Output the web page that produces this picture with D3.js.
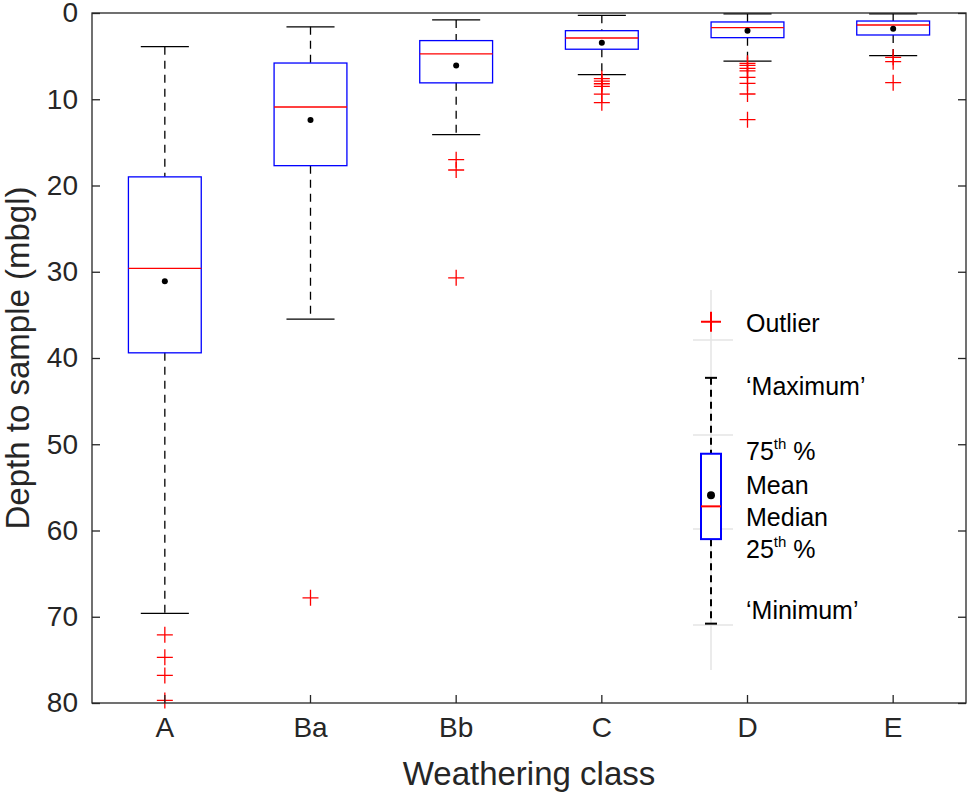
<!DOCTYPE html>
<html><head><meta charset="utf-8">
<script src="https://cdn.jsdelivr.net/npm/d3@7/dist/d3.min.js"></script>
<style>body{margin:0;background:#fff}svg{font-family:"Liberation Sans",Arial,sans-serif}</style>
</head><body><svg id="c" width="969" height="799"></svg>
<script>
const categories = ["A","Ba","Bb","C","D","E"];
const whiskerTop = [3.9,1.6,0.8,0.27,0.1,0.1];
const q1 = [19.0,5.8,3.2,2.05,1.04,0.93];
const medians = [29.6,10.9,4.75,2.9,1.7,1.39];
const means = [31.1,12.4,6.1,3.45,2.05,1.82];
const q3 = [39.4,17.7,8.1,4.2,2.86,2.55];
const whiskerBottom = [69.6,35.5,14.1,7.15,5.57,4.95];
const outliers = [[72.1,74.7,76.8,79.7],[67.8],[17.0,18.2,30.7],[7.6,7.9,8.2,8.5,9.4,10.4],[5.83,6.07,6.41,6.72,7.46,8.15,9.39,12.37],[5.14,5.64,8.08]];
const yTicks = [0,10,20,30,40,50,60,70,80];
const legend = {outlier:35.8,max:42.3,q1:51.1,median:57.2,mean:55.9,q3:61,min:70.8};
const legendLabels = [["Outlier",323],["‘Maximum’",386],["75|th| %",451],["Mean",485],["Median",517],["25|th| %",549],["‘Minimum’",610]];

const svg = d3.select("#c");
const L=92,R=966,T=13,B=703;
const x = d3.scaleBand().domain(categories).range([L,R]);
const y = d3.scaleLinear().domain([0,80]).range([T,B]);
const bw = x.bandwidth()*0.5, cw = x.bandwidth()*0.33;

const lx=711;
const g0=svg.append("g").attr("stroke","#e4e4e4").attr("stroke-width",1.5);
g0.append("line").attr("x1",lx).attr("x2",lx).attr("y1",290).attr("y2",670);
[340,435,529,625].forEach(v=>g0.append("line").attr("x1",lx-18).attr("x2",lx+22).attr("y1",v).attr("y2",v));

categories.forEach((c,i)=>{
  const cx = x(c)+x.bandwidth()/2;
  const g = svg.append("g");
  g.append("line").attr("x1",cx).attr("x2",cx).attr("y1",y(whiskerTop[i])).attr("y2",y(q1[i])).attr("stroke","#000").attr("stroke-dasharray","8,6").attr("stroke-width",1.3);
  g.append("line").attr("x1",cx).attr("x2",cx).attr("y1",y(q3[i])).attr("y2",y(whiskerBottom[i])).attr("stroke","#000").attr("stroke-dasharray","8,6").attr("stroke-width",1.3);
  [whiskerTop[i],whiskerBottom[i]].forEach(v=>g.append("line").attr("x1",cx-cw/2).attr("x2",cx+cw/2).attr("y1",y(v)).attr("y2",y(v)).attr("stroke","#000").attr("stroke-width",1.3));
  g.append("rect").attr("x",cx-bw/2).attr("width",bw).attr("y",y(q1[i])).attr("height",y(q3[i])-y(q1[i])).attr("fill","none").attr("stroke","#0000ff").attr("stroke-width",1.3);
  g.append("line").attr("x1",cx-bw/2).attr("x2",cx+bw/2).attr("y1",y(medians[i])).attr("y2",y(medians[i])).attr("stroke","#ff0000").attr("stroke-width",1.3);
  g.append("circle").attr("cx",cx).attr("cy",y(means[i])).attr("r",3).attr("fill","#000");
  outliers[i].forEach(v=>{
    g.append("path").attr("d",`M${cx-8},${y(v)}H${cx+8}M${cx},${y(v)-8}V${y(v)+8}`).attr("stroke","#ff0000").attr("stroke-width",1.3);
  });
});

const lg = svg.append("g");
const lbw=20, lcw=12;
lg.append("path").attr("d",`M${lx-10},${y(legend.outlier)}h20M${lx},${y(legend.outlier)-10}v20`).attr("stroke","#ff0000").attr("stroke-width",2);
lg.append("line").attr("x1",lx).attr("x2",lx).attr("y1",y(legend.max)).attr("y2",y(legend.q1)).attr("stroke","#000").attr("stroke-width",2).attr("stroke-dasharray","7,5");
lg.append("line").attr("x1",lx).attr("x2",lx).attr("y1",y(legend.q3)).attr("y2",y(legend.min)).attr("stroke","#000").attr("stroke-width",2).attr("stroke-dasharray","7,5");
[legend.max,legend.min].forEach(v=>lg.append("line").attr("x1",lx-lcw/2).attr("x2",lx+lcw/2).attr("y1",y(v)).attr("y2",y(v)).attr("stroke","#000").attr("stroke-width",2));
lg.append("rect").attr("x",lx-lbw/2).attr("width",lbw).attr("y",y(legend.q1)).attr("height",y(legend.q3)-y(legend.q1)).attr("fill","#fff").attr("stroke","#0000ff").attr("stroke-width",2);
lg.append("line").attr("x1",lx-lbw/2).attr("x2",lx+lbw/2).attr("y1",y(legend.median)).attr("y2",y(legend.median)).attr("stroke","#ff0000").attr("stroke-width",2);
lg.append("circle").attr("cx",lx).attr("cy",y(legend.mean)).attr("r",4).attr("fill","#000");
legendLabels.forEach(([t,yy])=>{
  const tx = lg.append("text").attr("x",746).attr("y",yy).attr("dy","0.35em").attr("font-size",25).attr("fill","#000");
  const parts=t.split("|");
  tx.append("tspan").text(parts[0]);
  if(parts.length>1){
    tx.append("tspan").attr("font-size",15).attr("dy","-0.75em").text(parts[1]);
    tx.append("tspan").attr("dy","0.45em").text(parts[2]);
  }
});

svg.append("rect").attr("x",L).attr("y",T).attr("width",R-L).attr("height",B-T).attr("fill","none").attr("stroke","#262626").attr("stroke-width",1.3);
const ya = svg.append("g").attr("transform",`translate(${L},0)`).call(d3.axisLeft(y).tickValues(yTicks).tickSizeInner(-8).tickSizeOuter(0).tickPadding(14));
const yr = svg.append("g").attr("transform",`translate(${R},0)`).call(d3.axisRight(y).tickValues(yTicks).tickSizeInner(-8).tickSizeOuter(0).tickFormat(""));
const xa = svg.append("g").attr("transform",`translate(0,${B})`).call(d3.axisBottom(x).tickSizeInner(-8).tickSizeOuter(0).tickPadding(14));
[ya,yr,xa].forEach(a=>{a.select(".domain").remove();a.selectAll("line").attr("stroke","#262626").attr("stroke-width",1.3);a.selectAll("text").attr("font-size",28).attr("fill","#262626").attr("font-family","Liberation Sans, Arial, sans-serif");});
svg.append("text").attr("x",(L+R)/2).attr("y",785).attr("text-anchor","middle").attr("font-size",33).attr("fill","#262626").text("Weathering class");
svg.append("text").attr("transform",`translate(29,${(T+B)/2}) rotate(-90)`).attr("text-anchor","middle").attr("font-size",33).attr("fill","#262626").text("Depth to sample (mbgl)");
</script></body></html>
